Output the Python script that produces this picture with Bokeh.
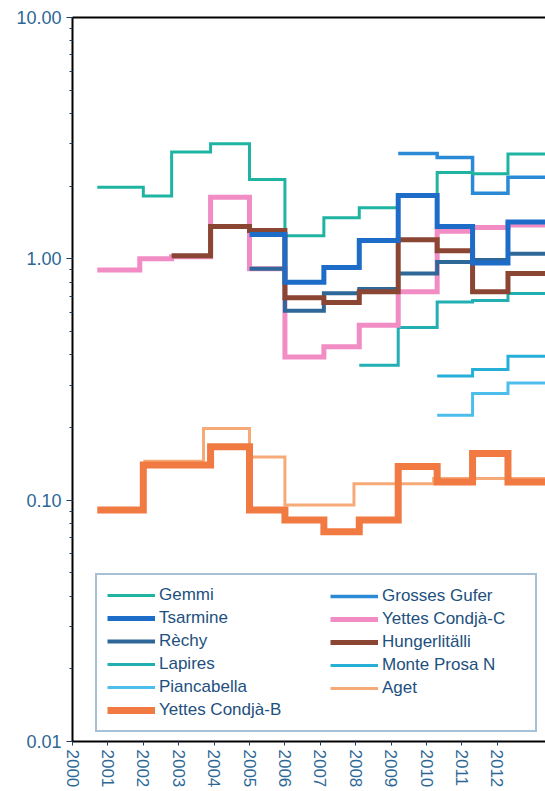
from bokeh.plotting import figure
from bokeh.models import (Range1d, LinearAxis, Legend, LegendItem,
                          NumeralTickFormatter, FixedTicker)
from bokeh.embed import file_html
from bokeh.resources import INLINE

# ---------------- data (hydrological periods, start/end edges and values) ----
year_ticks = list(range(2000, 2013))

gemmi_edges = [2000.7, 2002.0, 2002.8, 2003.9, 2005.0, 2006.0, 2007.1, 2008.1, 2009.2, 2010.3, 2011.3, 2012.3, 2013.4]
gemmi_vals = [1.98, 1.82, 2.77, 3.0, 2.13, 1.245, 1.48, 1.63, 1.83, 2.28, 2.25, 2.72]

gufer_edges = [2009.2, 2010.3, 2011.3, 2012.3, 2013.4]
gufer_vals = [2.73, 2.63, 1.87, 2.18]

tsarmine_edges = [2005.0, 2006.0, 2007.1, 2008.1, 2009.2, 2010.3, 2011.3, 2012.3, 2013.4]
tsarmine_vals = [1.26, 0.80, 0.92, 1.19, 1.83, 1.36, 0.96, 1.42]

yettes_c_edges = [2000.7, 2001.9, 2002.8, 2003.9, 2005.0, 2006.0, 2007.1, 2008.1, 2009.2, 2010.3, 2011.3, 2012.3, 2013.4]
yettes_c_vals = [0.90, 1.0, 1.02, 1.80, 0.91, 0.392, 0.432, 0.531, 0.73, 1.30, 1.35, 1.38]

rechy_edges = [2005.0, 2006.0, 2007.1, 2008.1, 2009.2, 2010.3, 2011.3, 2012.3, 2013.4]
rechy_vals = [0.91, 0.61, 0.72, 0.75, 0.87, 0.97, 0.99, 1.05]

hunger_edges = [2002.8, 2003.9, 2005.0, 2006.0, 2007.1, 2008.1, 2009.2, 2010.3, 2011.3, 2012.3, 2013.4]
hunger_vals = [1.03, 1.36, 1.31, 0.69, 0.66, 0.73, 1.20, 1.08, 0.73, 0.87]

lapires_edges = [2008.1, 2009.2, 2010.3, 2011.3, 2012.3, 2013.4]
lapires_vals = [0.362, 0.519, 0.663, 0.672, 0.718]

prosa_edges = [2010.3, 2011.3, 2012.3, 2013.4]
prosa_vals = [0.327, 0.348, 0.395]

pianca_edges = [2010.3, 2011.3, 2012.3, 2013.4]
pianca_vals = [0.225, 0.277, 0.306]

aget_edges = [2002.0, 2003.7, 2005.0, 2006.0, 2007.95, 2010.2, 2013.4]
aget_vals = [0.145, 0.198, 0.151, 0.0955, 0.117, 0.123]

yettes_b_edges = [2000.7, 2002.0, 2003.9, 2005.0, 2006.0, 2007.1, 2008.1, 2009.2, 2010.3, 2011.3, 2012.3, 2013.4]
yettes_b_vals = [0.091, 0.140, 0.1665, 0.091, 0.0828, 0.074, 0.0828, 0.138, 0.119, 0.156, 0.119]

# ---------------- figure ------------------------------------------------------
p = figure(width=545, height=790, output_backend="svg", toolbar_location=None,
           y_axis_type="log",
           x_range=Range1d(2000, 2013.36), y_range=Range1d(0.01, 10),
           min_border_left=72, min_border_right=0, min_border_top=17,
           min_border_bottom=48, background_fill_color="white",
           border_fill_color="white", outline_line_color=None)
p.xgrid.visible = False
p.ygrid.visible = False

TXT = "#2d6796"

yax = p.yaxis[0]
yax.formatter = NumeralTickFormatter(format="0.00")
yax.axis_line_width = 2
yax.axis_line_color = "black"
yax.major_tick_line_color = "#1c3d5e"
yax.minor_tick_line_color = "#1c3d5e"
yax.major_tick_out = 6
yax.major_tick_in = 0
yax.minor_tick_out = 3
yax.minor_tick_in = 0
yax.major_label_text_font = "Liberation Sans"
yax.major_label_text_font_size = "18px"
yax.major_label_text_color = TXT
yax.major_label_standoff = 5

xax = p.xaxis[0]
xax.ticker = FixedTicker(ticks=year_ticks)
xax.axis_line_width = 2
xax.axis_line_color = "black"
xax.major_tick_line_color = "#1c3d5e"
xax.major_tick_out = 4
xax.major_tick_in = 0
xax.minor_tick_line_color = None
xax.major_label_orientation = "vertical"
xax.major_label_text_font = "Liberation Sans"
xax.major_label_text_font_size = "17px"
xax.major_label_text_color = TXT
xax.major_label_standoff = 4

top = LinearAxis(ticker=FixedTicker(ticks=[]), axis_line_width=2,
                 axis_line_color="black",
                 major_tick_line_color=None, minor_tick_line_color=None,
                 major_tick_out=0, minor_tick_out=0, major_tick_in=0,
                 minor_tick_in=0, major_label_standoff=0)
p.add_layout(top, "above")


def step(edges, vals, color, width):
    ys = list(vals) + [vals[-1]]
    return p.step(x=edges, y=ys, mode="after", line_color=color,
                  line_width=width, line_join="miter", line_cap="butt")


r_aget = step(aget_edges, aget_vals, "#f6aa78", 3)
r_yb = step(yettes_b_edges, yettes_b_vals, "#f07a42", 7)
r_pianca = step(pianca_edges, pianca_vals, "#4dbdec", 3)
r_prosa = step(prosa_edges, prosa_vals, "#26b0d8", 3)
r_lapires = step(lapires_edges, lapires_vals, "#22afb4", 3)
r_yc = step(yettes_c_edges, yettes_c_vals, "#f28cc4", 5)
r_gufer = step(gufer_edges, gufer_vals, "#2a8ad6", 3.5)
r_gemmi = step(gemmi_edges, gemmi_vals, "#1fb4a2", 3)
r_rechy = step(rechy_edges, rechy_vals, "#2e6898", 4)
r_hunger = step(hunger_edges, hunger_vals, "#8a4632", 5)
r_tsar = step(tsarmine_edges, tsarmine_vals, "#1d6cc8", 5)

common = dict(label_text_font="Liberation Sans", label_text_font_size="17px",
              label_text_color="#22507e", glyph_width=48, glyph_height=20,
              label_height=20, spacing=3, padding=10, label_standoff=4,
              margin=0, orientation="vertical")

legend_a = Legend(items=[
    LegendItem(label="Gemmi", renderers=[r_gemmi]),
    LegendItem(label="Tsarmine", renderers=[r_tsar]),
    LegendItem(label="Rèchy", renderers=[r_rechy]),
    LegendItem(label="Lapires", renderers=[r_lapires]),
    LegendItem(label="Piancabella", renderers=[r_pianca]),
    LegendItem(label="Yettes Condjà-B", renderers=[r_yb]),
], location=(23, 9), label_width=366, border_line_color="#4d83ad",
    border_line_width=2, background_fill_color="white",
    background_fill_alpha=1, **common)

legend_b = Legend(items=[
    LegendItem(label="Grosses Gufer", renderers=[r_gufer]),
    LegendItem(label="Yettes Condjà-C", renderers=[r_yc]),
    LegendItem(label="Hungerlitälli", renderers=[r_hunger]),
    LegendItem(label="Monte Prosa N", renderers=[r_prosa]),
    LegendItem(label="Aget", renderers=[r_aget]),
], location=(258, 43), border_line_color=None,
    background_fill_alpha=0, **common)

p.add_layout(legend_a)
p.add_layout(legend_b)

open("out.html", "w").write(file_html(p, INLINE))
